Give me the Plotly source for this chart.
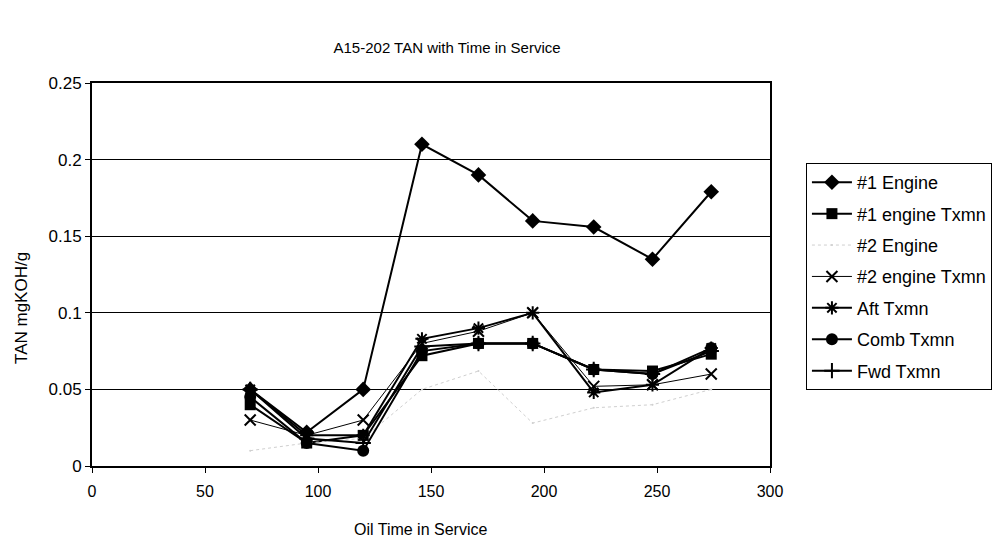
import plotly.graph_objects as go

hours = [70, 95, 120, 146, 171, 195, 222, 248, 274]

engine1 = [0.05, 0.022, 0.05, 0.21, 0.19, 0.16, 0.156, 0.135, 0.179]
engine1_txmn = [0.04, 0.015, 0.02, 0.072, 0.08, 0.08, 0.063, 0.062, 0.073]
engine2 = [0.01, 0.015, 0.018, 0.05, 0.062, 0.028, 0.038, 0.04, 0.05]
engine2_txmn = [0.03, 0.02, 0.03, 0.08, 0.088, 0.1, 0.052, 0.053, 0.06]
aft_txmn = [0.05, 0.02, 0.02, 0.083, 0.09, 0.1, 0.048, 0.053, 0.077]
comb_txmn = [0.045, 0.015, 0.01, 0.075, 0.08, 0.08, 0.063, 0.06, 0.077]
fwd_txmn = [0.05, 0.018, 0.015, 0.078, 0.08, 0.08, 0.063, 0.06, 0.075]

FONT = "Liberation Sans"

series = [
    ("#1 Engine", engine1, "diamond", 12, 2, "black", "solid"),
    ("#1 engine Txmn", engine1_txmn, "square", 11, 2, "black", "solid"),
    ("#2 Engine", engine2, "circle", 2, 1, "#cfcfcf", "dot"),
    ("#2 engine Txmn", engine2_txmn, "x-thin-open", 11, 1, "black", "solid"),
    ("Aft Txmn", aft_txmn, "asterisk-open", 11, 2, "black", "solid"),
    ("Comb Txmn", comb_txmn, "circle", 12, 2, "black", "solid"),
    ("Fwd Txmn", fwd_txmn, "cross-thin-open", 11, 2, "black", "solid"),
]

fig = go.Figure()
for i, (name, vals, sym, size, lw, col, dash) in enumerate(series):
    fig.add_trace(go.Scatter(
        x=hours, y=vals, name=name, mode="lines+markers", legendgroup=f"g{i}",
        line=dict(color=col, width=lw, dash=dash),
        marker=dict(symbol=sym, size=size, color=col,
                    line=dict(color=col, width=2 if "open" in sym else 0)),
    ))

fig.update_layout(
    width=1007, height=546,
    margin=dict(l=84, r=245, t=75, b=88),
    paper_bgcolor="white", plot_bgcolor="white",
    font=dict(family=FONT, size=16, color="black"),
    title=dict(text="A15-202 TAN with Time in Service", x=0.436, xanchor="center",
               y=0.927, yanchor="middle",
               font=dict(family=FONT, size=15, color="black")),
    showlegend=True,
    legend=dict(x=1.053, y=0.791, xanchor="left", yanchor="top",
                bordercolor="black", borderwidth=1, bgcolor="white",
                font=dict(family=FONT, size=18, color="black"),
                tracegroupgap=5, itemwidth=40),
    xaxis=dict(range=[0, 300], tickvals=[0, 50, 100, 150, 200, 250, 300],
               showgrid=False, zeroline=False, showline=True, linecolor="black",
               linewidth=2, mirror=True, ticks="outside", tickcolor="black",
               ticklen=5, ticklabelstandoff=5,
               tickfont=dict(family=FONT, size=16, color="black")),
    yaxis=dict(range=[0, 0.25], tickvals=[0, 0.05, 0.1, 0.15, 0.2, 0.25],
               ticktext=["0", "0.05", "0.1", "0.15", "0.2", "0.25"],
               showgrid=True, gridcolor="black", gridwidth=1, zeroline=False,
               showline=True, linecolor="black", linewidth=2, mirror=True,
               ticks="outside", tickcolor="black", ticklen=5,
               tickfont=dict(family=FONT, size=17, color="black")),
    annotations=[
        dict(text="Oil Time in Service", xref="paper", yref="paper",
             x=0.484, y=-0.167, xanchor="center", yanchor="middle",
             showarrow=False, font=dict(family=FONT, size=16, color="black")),
        dict(text="TAN mgKOH/g", xref="paper", yref="paper", textangle=-90,
             x=-0.103, y=0.413, xanchor="center", yanchor="middle",
             showarrow=False, font=dict(family=FONT, size=17, color="black")),
    ],
)

fig.write_html("out.html")
